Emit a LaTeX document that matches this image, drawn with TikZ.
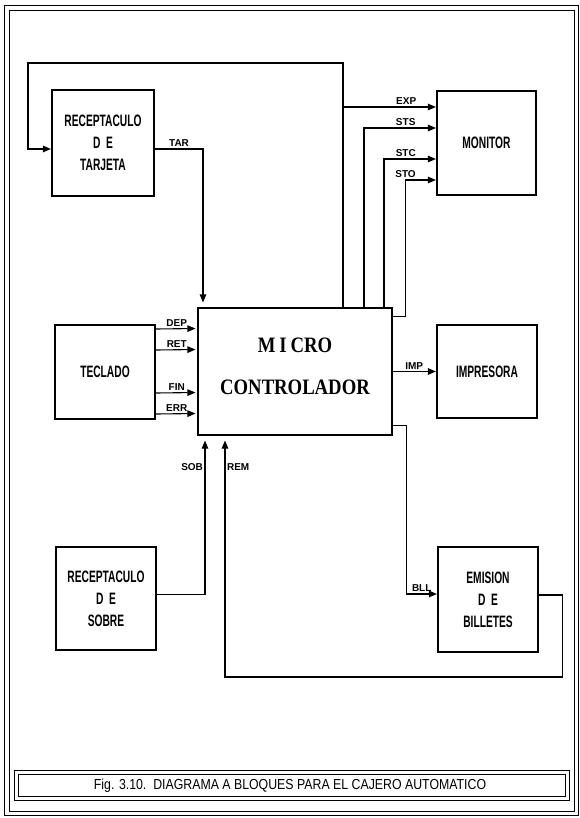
\documentclass[tikz,border=0pt]{standalone}
\usepackage{fontspec}
\setmainfont{Liberation Serif}
\newfontfamily\bloquefont[FakeStretch=0.62]{Liberation Sans}
\newfontfamily\senalfont{Liberation Sans}
\newfontfamily\leyendafont[FakeStretch=0.85]{Liberation Sans}
\newfontfamily\microfont[FakeStretch=0.85]{Liberation Serif}
\usepackage{tikz}
\usetikzlibrary{arrows.meta,positioning,calc}

\begin{document}
\begin{tikzpicture}[x=1pt,y=-1pt,
  bloque/.style={draw,line width=2.2pt,inner sep=0pt,align=center,
    minimum width=100pt,minimum height=104pt,
    font=\bloquefont\bfseries\fontsize{16.5}{22}\selectfont},
  micro/.style={draw,line width=1.1pt,inner sep=0pt,align=center,
    minimum width=194pt,minimum height=127pt,
    font=\microfont\bfseries\fontsize{22}{42}\selectfont},
  senal/.style={line width=1.1pt,-{Triangle[length=8pt,width=6.5pt]}},
  etiq/.style={font=\senalfont\bfseries\fontsize{10}{10}\selectfont,inner sep=1.5pt},
  leyenda/.style={font=\leyendafont\fontsize{14.5}{16}\selectfont,inner sep=0pt}]
\useasboundingbox (0,0) rectangle (580,818);

% marco
\draw[line width=0.9pt] (4,5) rectangle (578,815);
\draw[line width=0.9pt] (9,10) rectangle (574,811);

% bloques
\node[bloque,minimum width=102pt,minimum height=106pt] (tarjeta) at (103,143) {RECEPTACULO\\D\,\,E\\TARJETA};
\node[bloque,minimum height=94pt] (teclado) at (105,372) {TECLADO};
\node[bloque,minimum height=103pt] (sobre) at (106,598.5) {RECEPTACULO\\D\,\,E\\SOBRE};
\node[micro] (micro) at (295,371.5) {M\hspace{4pt}I\hspace{4pt}CRO\\CONTROLADOR\rule[-10pt]{0pt}{10pt}};
\node[bloque,minimum width=99pt] (monitor) at (486.5,143) {MONITOR};
\node[bloque,minimum height=93pt] (impresora) at (487,371.5) {IMPRESORA};
\node[bloque,minimum height=105pt] (emision) at (488,599.5) {EMISION\\D\,\,E\\BILLETES};

\coordinate (lazo) at (28,63);
\coordinate (retorno) at (225,677);

% tarjeta
\draw[senal] ([xshift=48pt]micro.north) |- (lazo) |- ([yshift=-6pt]tarjeta.west);
\draw[senal,shorten >=5pt] ([yshift=-6pt]tarjeta.east) -| node[etiq,pos=0.25,above]{TAR} ([xshift=-92pt]micro.north);

% teclado
\foreach \dy/\txt in {43/DEP,22/RET,-21/FIN,-42/ERR}
  \draw[senal,shorten >=2pt] ([yshift=\dy pt]teclado.east) -- node[etiq,above]{\txt} ([yshift=\dy pt]micro.west);

% monitor
\draw[senal] ([xshift=48pt]micro.north) |- node[etiq,pos=0.84,above]{EXP} ([yshift=36pt]monitor.west);
\draw[senal] ([xshift=69pt]micro.north) |- node[etiq,pos=0.79,above]{STS} ([yshift=15pt]monitor.west);
\draw[senal] ([xshift=89pt]micro.north) |- node[etiq,pos=0.71,above]{STC} ([yshift=-16pt]monitor.west);
\draw[senal] ([yshift=-9pt]micro.north east) -- ++(13pt,0) |- node[etiq,pos=0.5,above]{STO} ([yshift=-37pt]monitor.west);

% impresora y billetes
\draw[senal] (micro.east) -- node[etiq,above]{IMP} (impresora.west);
\draw[senal] ([yshift=10pt]micro.south east) -- ++(14pt,0) |- node[etiq,pos=0.75,above]{BLL} ([yshift=5.5pt]emision.west);
\draw[senal,shorten >=5pt] ([yshift=4.5pt]emision.east) -- ++(23pt,0) |- (retorno) -- node[etiq,pos=0.87,right]{REM} ([xshift=-70pt]micro.south);

% sobre
\draw[senal,shorten >=5pt] ([yshift=4pt]sobre.east) -| node[etiq,pos=0.9,left]{SOB} ([xshift=-90pt]micro.south);

% leyenda
\draw[line width=0.9pt] (14,770) rectangle (569,800);
\draw[line width=0.9pt] (18,774) rectangle (565,796);
\node[leyenda] (titulo) at (290,786) {Fig. 3.10.\ \ DIAGRAMA A BLOQUES PARA EL CAJERO AUTOMATICO};
\end{tikzpicture}
\end{document}
